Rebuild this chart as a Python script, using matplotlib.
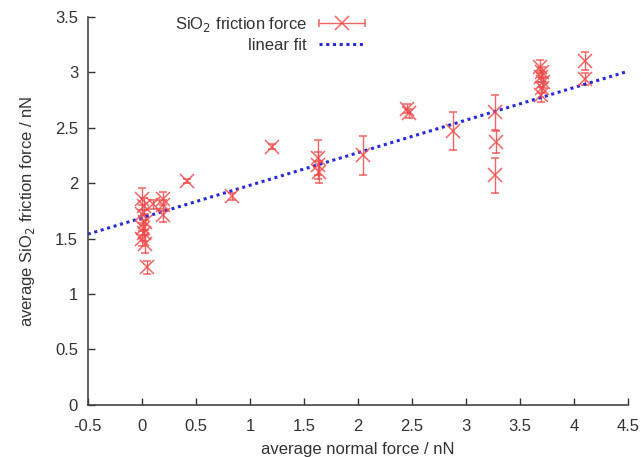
import matplotlib
matplotlib.use("Agg")
import matplotlib.pyplot as plt
from matplotlib.legend_handler import HandlerErrorbar
import numpy as np

plt.rcParams['font.family'] = ['Liberation Sans', 'DejaVu Sans']

# data
normal_force = [0.00, 0.02, 0.00, 0.03, 0.01, 0.02, 0.00, 0.03, 0.05,
                0.10, 0.20, 0.20, 0.20, 0.42, 0.83, 1.20,
                1.63, 1.63, 1.64, 2.05, 2.45, 2.47,
                2.88, 3.27, 3.28, 3.27,
                3.68, 3.70, 3.69, 3.71, 3.70, 3.69, 4.10, 4.10]
friction_force = [1.86, 1.79, 1.72, 1.65, 1.60, 1.55, 1.50, 1.45, 1.24,
                  1.81, 1.86, 1.80, 1.71, 2.02, 1.88, 2.33,
                  2.23, 2.16, 2.10, 2.25, 2.67, 2.63,
                  2.47, 2.64, 2.37, 2.07,
                  3.05, 3.00, 2.96, 2.91, 2.86, 2.80, 3.10, 2.94]
friction_err = [0.10, 0.08, 0.08, 0.07, 0.07, 0.07, 0.07, 0.08, 0.06,
                0.04, 0.06, 0.05, 0.06, 0.02, 0.03, 0.02,
                0.16, 0.12, 0.10, 0.18, 0.04, 0.04,
                0.17, 0.16, 0.10, 0.16,
                0.06, 0.05, 0.05, 0.05, 0.05, 0.07, 0.08, 0.05]
fit_x = [-0.5, 4.5]
fit_y = [1.54, 3.01]

x_ticks = [-0.5, 0, 0.5, 1, 1.5, 2, 2.5, 3, 3.5, 4, 4.5]
x_tick_labels = ['-0.5', '0', '0.5', '1', '1.5', '2', '2.5', '3', '3.5', '4', '4.5']
y_ticks = [0, 0.5, 1, 1.5, 2, 2.5, 3, 3.5]
y_tick_labels = ['0', '0.5', '1', '1.5', '2', '2.5', '3', '3.5']

fig = plt.figure(figsize=(6.41, 4.57), dpi=100)
ax = fig.add_axes([0.137, 0.114, 0.843, 0.849])

red = '#f04848'
txt = '#333333'
style = dict(fmt='x', color=red, ecolor=red, elinewidth=1.0, capsize=3, capthick=1.0,
             markersize=9.5, markeredgewidth=1.1, alpha=0.85)
ax.errorbar(normal_force, friction_force, yerr=friction_err, **style)
# legend proxy drawn gnuplot-style (horizontal bar with marker)
leg_eb = ax.errorbar([np.nan], [np.nan], xerr=[np.nan], **style)
ln, = ax.plot(fit_x, fit_y, linestyle=(0, (1, 1.2)), color='#2a2ad8', linewidth=2.2)

ax.set_xlim(-0.5, 4.5)
ax.set_ylim(0, 3.5)
ax.set_xticks(x_ticks)
ax.set_xticklabels(x_tick_labels)
ax.set_yticks(y_ticks)
ax.set_yticklabels(y_tick_labels)
ax.tick_params(direction='in', length=5, width=1, labelsize=12, colors=txt)
ax.tick_params(axis='x', pad=10)
ax.tick_params(axis='y', pad=7)
for s in ['top', 'right']:
    ax.spines[s].set_visible(False)
for s in ['left', 'bottom']:
    ax.spines[s].set_color('#444444')
    ax.spines[s].set_linewidth(1.2)

ax.set_xlabel('average normal force / nN', fontsize=12, color=txt, labelpad=6)
ax.set_ylabel('average SiO$_2$ friction force / nN', fontsize=12, color=txt, labelpad=13)

leg = ax.legend([leg_eb, ln], ['SiO$_2$ friction force', 'linear fit'],
                loc='upper right', bbox_to_anchor=(0.575, 0.975),
                bbox_transform=fig.transFigure, frameon=False,
                markerfirst=False, fontsize=12, handlelength=2.8, labelspacing=0.25,
                handletextpad=0.7, borderaxespad=0, borderpad=0.2,
                handler_map={leg_eb: HandlerErrorbar(xerr_size=1.4)})
for t in leg.get_texts():
    t.set_color(txt)

fig.savefig('out.png', dpi=100)
